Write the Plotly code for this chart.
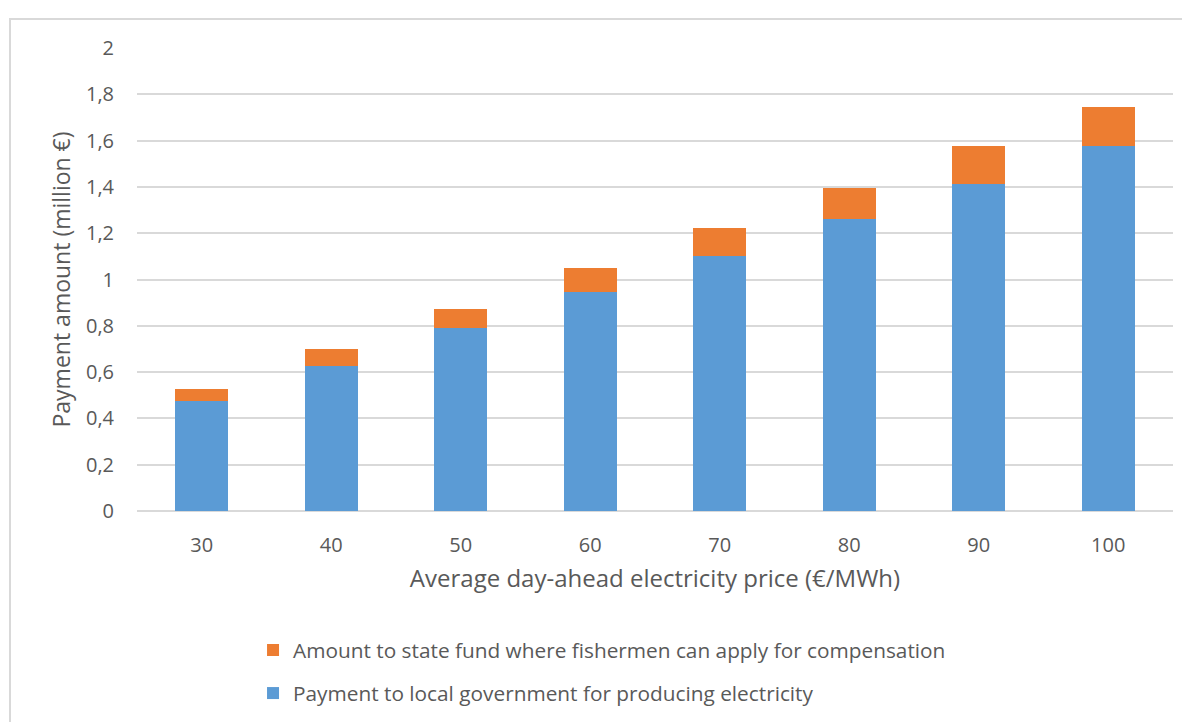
import plotly.graph_objects as go

prices = ["30", "40", "50", "60", "70", "80", "90", "100"]
local_gov = [0.474, 0.628, 0.790, 0.945, 1.100, 1.260, 1.414, 1.575]
state_fund = [0.052, 0.073, 0.083, 0.105, 0.121, 0.137, 0.161, 0.172]

name_local = "Payment to local government for producing electricity"
name_fund = "Amount to state fund where fishermen can apply for compensation"

FONT = "'Open Sans', sans-serif"
GREY = "#595959"

fig = go.Figure()
fig.add_trace(go.Bar(x=prices, y=local_gov, name=name_local, legendgroup="a", legendrank=2,
                     marker=dict(color="#5b9bd5", line=dict(width=0))))
fig.add_trace(go.Bar(x=prices, y=state_fund, name=name_fund, legendgroup="b", legendrank=1,
                     marker=dict(color="#ed7d31", line=dict(width=0))))

fig.update_layout(
    width=1190, height=722,
    barmode="stack", bargap=0.594,
    separators=", ",
    paper_bgcolor="white", plot_bgcolor="white",
    margin=dict(l=129, r=25, t=40, b=219, autoexpand=False),
    font=dict(family=FONT, color=GREY, size=20),
    showlegend=True,
    legend=dict(orientation="v", traceorder="grouped", tracegroupgap=13,
                x=0.112, xanchor="left", y=-0.257, yanchor="top",
                font=dict(size=20.8, color=GREY, family=FONT), itemwidth=30),
    xaxis=dict(showgrid=False, ticks="outside", ticklen=16, tickcolor="rgba(0,0,0,0)",
               tickfont=dict(size=20, color=GREY), automargin=False,
               title=dict(text="Average day-ahead electricity price (€/MWh)",
                          font=dict(size=24, color=GREY), standoff=13),
               showline=False),
    yaxis=dict(range=[0, 2], dtick=0.2, tick0=0, showgrid=True, gridcolor="#d9d9d9",
               gridwidth=1.5, zeroline=True, zerolinecolor="#d9d9d9", zerolinewidth=1.5,
               ticks="outside", ticklen=18, tickcolor="rgba(0,0,0,0)", automargin=False,
               tickfont=dict(size=20, color=GREY),
               title=dict(text="Payment amount (million €)", font=dict(size=23, color=GREY),
                          standoff=8)),
    shapes=[dict(type="rect", xref="paper", yref="paper",
                 x0=-0.1226, x1=1.2, y0=-0.6, y1=1.0626,
                 line=dict(color="#d9d9d9", width=2), fillcolor="rgba(0,0,0,0)",
                 layer="below")],
)

fig.write_html("out.html")
